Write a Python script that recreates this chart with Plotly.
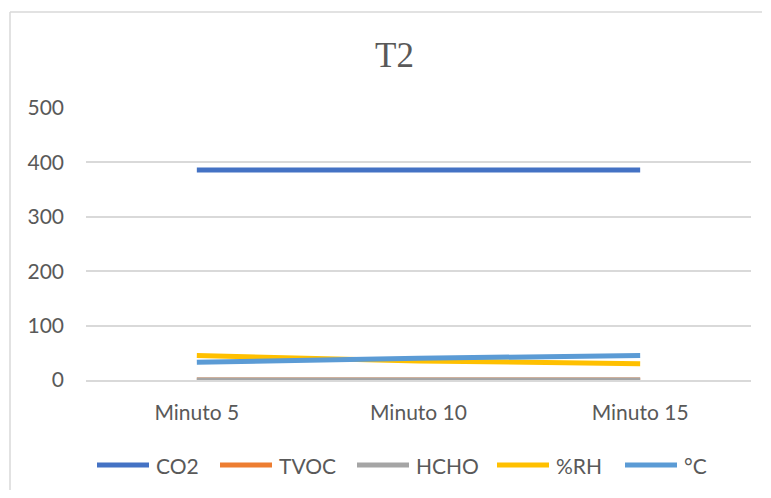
import plotly.graph_objects as go

categories = ["Minuto 5", "Minuto 10", "Minuto 15"]
co2 = [386, 385, 386]
tvoc = [0, 0, 0]
hcho = [0, 0, 0]
rh = [45, 35, 30]
temp = [32.5, 40, 45]
y_ticks = [0, 100, 200, 300, 400, 500]
series_names = ["CO2", "TVOC", "HCHO", "%RH", "°C"]
series_values = [co2, tvoc, hcho, rh, temp]
series_colors = ["#4472C4", "#ED7D31", "#A5A5A5", "#FFC000", "#5B9BD5"]

# page has an 8px body margin; figure pixels = photo pixels - 8
W, H = 755, 482
L, R, T, B = 78, 12, 100, 110
pw, ph = W - L - R, H - T - B

def px_x(p):
    return (p - L) / pw

def px_y(p):
    return (H - B - p) / ph

fig = go.Figure()
for name, vals, color in zip(series_names, series_values, series_colors):
    fig.add_trace(go.Scatter(x=categories, y=vals, name=name, mode="lines",
                             line=dict(color=color, width=5), showlegend=False))

border = dict(color="#D9D9D9", width=1.5)
shapes = [
    dict(type="line", xref="paper", yref="paper", x0=px_x(2), x1=px_x(2),
         y0=px_y(H), y1=px_y(4), line=border, layer="below"),
    dict(type="line", xref="paper", yref="paper", x0=px_x(2), x1=px_x(W - 1),
         y0=px_y(4), y1=px_y(4), line=border, layer="below"),
]

# custom legend (Excel-like long line samples)
legend_starts = [87, 210, 347, 487, 615]
legend_y = 457
annotations = []
for name, color, x0 in zip(series_names, series_colors, legend_starts):
    shapes.append(dict(type="line", xref="paper", yref="paper",
                       x0=px_x(x0 + 2), x1=px_x(x0 + 54), y0=px_y(legend_y), y1=px_y(legend_y),
                       line=dict(color=color, width=5)))
    annotations.append(dict(text=name, xref="paper", yref="paper", x=px_x(x0 + 59),
                            y=px_y(legend_y), xanchor="left", yanchor="middle", showarrow=False,
                            font=dict(size=21, color="#595959")))

fig.update_layout(
    width=W, height=H,
    margin=dict(l=L, r=R, t=T, b=B),
    paper_bgcolor="white", plot_bgcolor="white",
    font=dict(family="Lato, Liberation Sans, sans-serif", size=21, color="#595959"),
    title=dict(text="T2", x=386.5 / W, xref="container", xanchor="center",
               y=1 - 46.5 / H, yref="container", yanchor="middle",
               font=dict(family="Liberation Serif, serif", size=35, color="#595959")),
    xaxis=dict(type="category", range=[-0.5, 2.5], showgrid=False, showline=True,
               linecolor="#D9D9D9", linewidth=1.5, ticks="", ticklabelstandoff=13,
               tickfont=dict(size=21, color="#595959"), zeroline=False),
    yaxis=dict(range=[0, 500], tickvals=y_ticks, showgrid=True, gridcolor="#D9D9D9",
               gridwidth=1.5, showline=False, zeroline=False, ticks="",
               ticklabelstandoff=21, tickfont=dict(size=21, color="#595959")),
    showlegend=False,
    shapes=shapes,
    annotations=annotations,
)

fig.write_html("out.html")
